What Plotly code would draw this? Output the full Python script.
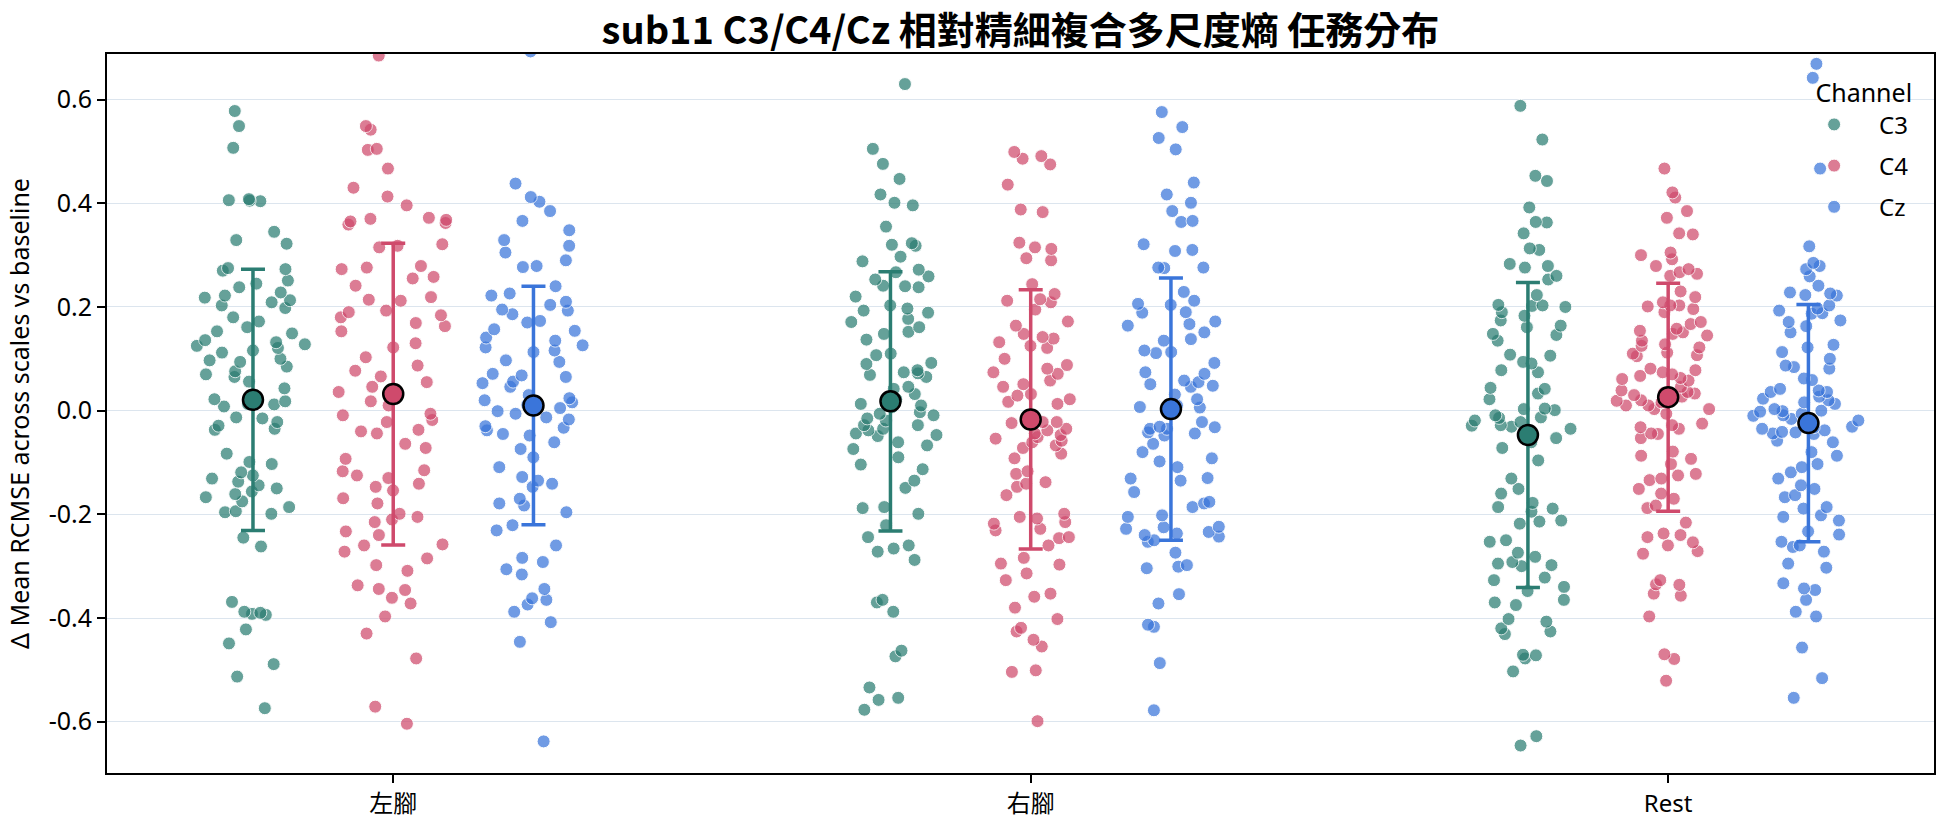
import plotly.graph_objects as go

categories = ["左腳", "右腳", "Rest"]
channels = ["C3", "C4", "Cz"]
y_tick_values = [-0.6, -0.4, -0.2, 0.0, 0.2, 0.4, 0.6]
y_tick_labels = ["-0.6", "-0.4", "-0.2", "0.0", "0.2", "0.4", "0.6"]

# ---- individual values ----
c3_left = [0.578, 0.549, 0.507, 0.408, 0.406, 0.405, 0.404, 0.345, 0.329, 0.322, 0.275, 0.273, 0.270, 0.251,
           0.245, 0.238, 0.228, 0.222, 0.218, 0.213, 0.209, 0.203, 0.198, 0.180, 0.172, 0.161, 0.153, 0.149,
           0.136, 0.132, 0.128, 0.125, 0.121, 0.116, 0.112, 0.100, 0.097, 0.094, 0.085, 0.076, 0.070, 0.065,
           0.056, 0.043, 0.022, 0.018, 0.013, 0.012, 0.008, -0.013, -0.015, -0.022, -0.029, -0.035, -0.037,
           -0.083, -0.099, -0.103, -0.119, -0.125, -0.131, -0.137, -0.144, -0.150, -0.156, -0.161, -0.167,
           -0.175, -0.186, -0.194, -0.196, -0.199, -0.245, -0.262, -0.369, -0.388, -0.390, -0.392, -0.394,
           -0.422, -0.449, -0.489, -0.513, -0.574]
c4_left = [0.685, 0.549, 0.542, 0.505, 0.503, 0.467, 0.430, 0.413, 0.396, 0.372, 0.370, 0.368, 0.365, 0.362,
           0.359, 0.321, 0.318, 0.315, 0.279, 0.276, 0.273, 0.258, 0.255, 0.241, 0.219, 0.214, 0.212, 0.193,
           0.190, 0.184, 0.180, 0.169, 0.163, 0.153, 0.130, 0.122, 0.103, 0.087, 0.077, 0.066, 0.055, 0.046,
           0.036, 0.018, 0.010, -0.006, -0.009, -0.018, -0.022, -0.037, -0.040, -0.044, -0.064, -0.072, -0.093,
           -0.115, -0.117, -0.125, -0.130, -0.141, -0.147, -0.154, -0.169, -0.179, -0.199, -0.205, -0.210,
           -0.215, -0.233, -0.240, -0.258, -0.260, -0.272, -0.285, -0.298, -0.309, -0.337, -0.346, -0.344,
           -0.361, -0.372, -0.397, -0.430, -0.478, -0.571, -0.604]
cz_left = [0.693, 0.438, 0.412, 0.403, 0.385, 0.366, 0.348, 0.329, 0.318, 0.305, 0.290, 0.279, 0.277, 0.240,
           0.226, 0.222, 0.210, 0.204, 0.195, 0.193, 0.186, 0.173, 0.170, 0.157, 0.154, 0.141, 0.135, 0.126,
           0.122, 0.116, 0.113, 0.097, 0.094, 0.071, 0.068, 0.065, 0.056, 0.053, 0.046, 0.030, 0.024, 0.020,
           0.005, -0.001, -0.017, -0.030, -0.033, 0.016, 0.011, -0.006, -0.013, -0.038, -0.045, -0.048, -0.061,
           -0.074, -0.090, -0.109, -0.128, -0.135, -0.141, -0.147, -0.170, -0.179, -0.183, -0.196, -0.221,
           -0.231, -0.260, -0.284, -0.292, -0.306, -0.316, -0.344, -0.362, -0.365, -0.374, -0.388, -0.408,
           -0.446, -0.638]

c3_right = [0.630, 0.505, 0.476, 0.447, 0.417, 0.401, 0.396, 0.355, 0.323, 0.320, 0.318, 0.297, 0.288, 0.272,
            0.267, 0.259, 0.253, 0.241, 0.240, 0.238, 0.220, 0.203, 0.197, 0.193, 0.189, 0.177, 0.171, 0.161,
            0.152, 0.148, 0.137, 0.110, 0.107, 0.092, 0.090, 0.078, 0.074, 0.072, 0.069, 0.065, 0.046, 0.042,
            0.032, 0.022, 0.013, 0.010, 0.007, -0.003, -0.006, -0.009, -0.015, -0.019, -0.028, -0.028, -0.035,
            -0.038, -0.044, -0.047, -0.049, -0.061, -0.067, -0.074, -0.090, -0.104, -0.113, -0.135, -0.149,
            -0.186, -0.188, -0.199, -0.221, -0.244, -0.260, -0.266, -0.272, -0.288, -0.365, -0.370, -0.388,
            -0.463, -0.474, -0.534, -0.554, -0.558, -0.577]
c4_right = [0.499, 0.491, 0.486, 0.475, 0.436, 0.388, 0.383, 0.324, 0.315, 0.312, 0.294, 0.290, 0.244, 0.225,
            0.215, 0.212, 0.209, 0.195, 0.172, 0.164, 0.148, 0.142, 0.139, 0.132, 0.125, 0.121, 0.100, 0.088,
            0.081, 0.074, 0.071, 0.058, 0.051, 0.046, 0.032, 0.029, 0.017, 0.022, 0.013, -0.022, -0.024, -0.022,
            -0.035, -0.038, -0.044, -0.047, -0.051, -0.054, -0.058, -0.061, -0.067, -0.072, -0.083, -0.092,
            -0.117, -0.122, -0.138, -0.141, -0.147, -0.163, -0.199, -0.205, -0.208, -0.215, -0.218, -0.228,
            -0.231, -0.244, -0.246, -0.260, -0.284, -0.295, -0.297, -0.314, -0.327, -0.353, -0.359, -0.380,
            -0.402, -0.419, -0.426, -0.442, -0.455, -0.501, -0.504, -0.599]
cz_right = [0.576, 0.547, 0.526, 0.504, 0.440, 0.417, 0.401, 0.385, 0.366, 0.364, 0.321, 0.310, 0.308, 0.276,
            0.276, 0.275, 0.229, 0.212, 0.206, 0.204, 0.190, 0.189, 0.172, 0.167, 0.164, 0.151, 0.138, 0.135,
            0.116, 0.113, 0.111, 0.092, 0.074, 0.071, 0.058, 0.055, 0.051, 0.048, 0.046, 0.031, 0.010, 0.007,
            0.022, 0.006, 0.003, -0.022, -0.031, -0.035, -0.032, -0.035, -0.044, -0.042, -0.048, -0.064, -0.080,
            -0.092, -0.098, -0.109, -0.130, -0.131, -0.135, -0.157, -0.176, -0.179, -0.186, -0.202, -0.205,
            -0.224, -0.225, -0.228, -0.234, -0.237, -0.240, -0.243, -0.250, -0.253, -0.274, -0.298, -0.301,
            -0.304, -0.354, -0.372, -0.413, -0.417, -0.487, -0.578]

c3_rest = [0.588, 0.523, 0.453, 0.443, 0.392, 0.364, 0.363, 0.342, 0.313, 0.310, 0.283, 0.279, 0.276, 0.260,
           0.253, 0.223, 0.204, 0.203, 0.202, 0.200, 0.190, 0.183, 0.174, 0.164, 0.161, 0.148, 0.146, 0.135,
           0.108, 0.106, 0.094, 0.091, 0.078, 0.074, 0.044, 0.042, 0.033, 0.004, 0.001, -0.009, -0.014, -0.019,
           -0.028, -0.031, -0.047, 0.022, 0.003, -0.013, -0.022, -0.029, -0.035, -0.053, -0.061, -0.072, -0.096,
           -0.131, -0.151, -0.160, -0.178, -0.186, -0.189, -0.195, -0.212, -0.214, -0.218, -0.250, -0.253,
           -0.274, -0.282, -0.292, -0.295, -0.298, -0.300, -0.322, -0.327, -0.340, -0.348, -0.365, -0.370,
           -0.375, -0.402, -0.407, -0.420, -0.426, -0.431, -0.471, -0.478, -0.472, -0.503, -0.628, -0.646]
c4_rest = [0.467, 0.421, 0.411, 0.385, 0.372, 0.342, 0.340, 0.305, 0.300, 0.292, 0.279, 0.273, 0.267, 0.264,
           0.260, 0.230, 0.219, 0.209, 0.203, 0.203, 0.201, 0.196, 0.190, 0.171, 0.167, 0.158, 0.154, 0.151,
           0.148, 0.145, 0.135, 0.128, 0.125, 0.122, 0.112, 0.110, 0.107, 0.105, 0.081, 0.078, 0.074, 0.070,
           0.067, 0.063, 0.061, 0.058, 0.046, 0.039, 0.036, 0.034, 0.033, 0.030, 0.027, 0.020, 0.010, 0.003,
           -0.025, -0.028, -0.035, -0.044, 0.019, 0.016, 0.010, 0.003, -0.006, -0.032, -0.045, -0.053, -0.079,
           -0.087, -0.093, -0.103, -0.122, -0.125, -0.131, -0.134, -0.151, -0.160, -0.170, -0.183, -0.188,
           -0.216, -0.237, -0.240, -0.244, -0.254, -0.260, -0.271, -0.276, -0.327, -0.335, -0.336, -0.353,
           -0.357, -0.397, -0.470, -0.479, -0.521]
cz_rest = [0.669, 0.642, 0.467, 0.317, 0.285, 0.279, 0.273, 0.259, 0.241, 0.228, 0.223, 0.222, 0.226, 0.203,
           0.197, 0.193, 0.188, 0.187, 0.174, 0.171, 0.163, 0.151, 0.122, 0.127, 0.113, 0.100, 0.087, 0.084,
           0.081, 0.062, 0.059, 0.042, 0.039, 0.036, 0.036, 0.027, 0.023, 0.020, 0.003, 0.000, -0.001, -0.002,
           -0.009, -0.019, -0.025, -0.031, -0.038, -0.041, -0.044, 0.016, 0.013, -0.006, -0.010, -0.016, -0.032,
           -0.035, -0.042, -0.045, -0.058, -0.061, -0.080, -0.087, -0.103, -0.109, -0.119, -0.131, -0.144,
           -0.151, -0.163, -0.167, -0.186, -0.189, -0.202, -0.205, -0.212, -0.233, -0.239, -0.253, -0.260,
           -0.263, -0.272, -0.295, -0.303, -0.333, -0.343, -0.346, -0.365, -0.388, -0.397, -0.457, -0.516,
           -0.554]

# ---- group means and standard deviations ----
mean_c3 = [0.021, 0.018, -0.047]
mean_c4 = [0.032, -0.017, 0.026]
mean_cz = [0.010, 0.003, -0.024]
sd_c3 = [0.252, 0.250, 0.294]
sd_c4 = [0.291, 0.250, 0.220]
sd_cz = [0.230, 0.253, 0.229]

points = {"C3": [c3_left, c3_right, c3_rest],
          "C4": [c4_left, c4_right, c4_rest],
          "Cz": [cz_left, cz_right, cz_rest]}
means = {"C3": mean_c3, "C4": mean_c4, "Cz": mean_cz}
sds = {"C3": sd_c3, "C4": sd_c4, "Cz": sd_cz}

colors = {"C3": "#2B7D72", "C4": "#CF4A6C", "Cz": "#3A75DA"}
offsets = {"C3": -0.22, "C4": 0.0, "Cz": 0.22}

FONT = "Noto Sans, Noto Sans CJK TC, sans-serif"

fig = go.Figure()

for ch in channels:
    xs, ys = [], []
    for ci, vals in enumerate(points[ch]):
        xs += [ci + offsets[ch]] * len(vals)
        ys += vals
    fig.add_trace(go.Box(
        x=xs, y=ys, name=ch, boxpoints="all", jitter=1.0, pointpos=0, width=0.19,
        fillcolor="rgba(0,0,0,0)", line=dict(color="rgba(0,0,0,0)", width=0),
        marker=dict(color=colors[ch], opacity=0.72, size=13, line=dict(color="white", width=1)),
        hoveron="points", showlegend=False,
    ))

for ch in channels:
    fig.add_trace(go.Scatter(
        x=[ci + offsets[ch] for ci in range(len(categories))], y=means[ch],
        mode="markers", showlegend=False,
        marker=dict(size=20, color=colors[ch], line=dict(color="black", width=2.5)),
        error_y=dict(type="data", array=sds[ch], color=colors[ch], thickness=3.5, width=12),
    ))

for ch in channels:
    fig.add_trace(go.Scatter(
        x=[None], y=[None], mode="markers", name=ch, legendgroup=ch,
        marker=dict(size=13, color=colors[ch], opacity=0.72, line=dict(color="white", width=1)),
    ))

fig.update_layout(
    width=1944, height=827,
    margin=dict(l=107, r=8, t=54, b=52),
    paper_bgcolor="white", plot_bgcolor="white",
    font=dict(family=FONT, size=24, color="black"),
    title=dict(text="<b>sub11 C3/C4/Cz 相對精細複合多尺度熵 任務分布</b>",
               x=0.5, xref="paper", xanchor="center",
               y=1 - 31 / 827, yref="container", yanchor="middle",
               font=dict(family="Noto Sans CJK TC, Noto Sans, sans-serif", size=38, color="black")),
    legend=dict(x=0.9207, xanchor="left", y=0.978, yanchor="top", bgcolor="rgba(0,0,0,0)",
                itemwidth=80,
                title=dict(text="Channel", side="top right", font=dict(size=25)), font=dict(size=24),
                tracegroupgap=7),
    showlegend=True,
)
fig.update_xaxes(
    range=[-0.449, 2.417], tickvals=list(range(len(categories))), ticktext=categories,
    showgrid=False, zeroline=False, showline=True, linecolor="black", linewidth=2, mirror=True,
    ticks="outside", ticklen=8, tickwidth=1.5, tickcolor="black", tickfont=dict(size=24),
)
fig.update_yaxes(
    range=[-0.699, 0.688], tickvals=y_tick_values, ticktext=y_tick_labels,
    showgrid=True, gridcolor="#DCE5EE", gridwidth=1.3, zeroline=False,
    showline=True, linecolor="black", linewidth=2, mirror=True,
    ticks="outside", ticklen=8, tickwidth=1.5, tickcolor="black", tickfont=dict(size=25),
    title=dict(text="Δ Mean RCMSE across scales vs baseline", font=dict(size=25), standoff=12),
)

fig.write_html("out.html")
